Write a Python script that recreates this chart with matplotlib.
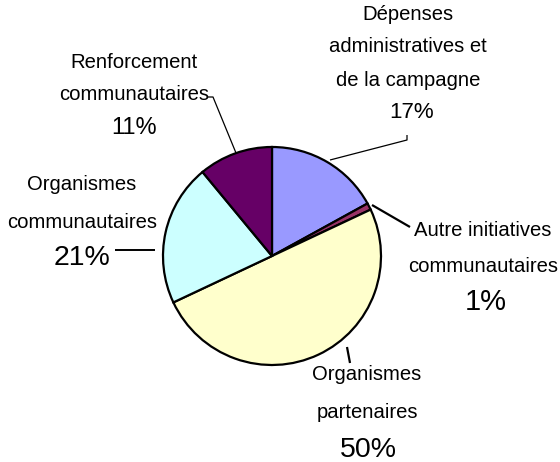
import matplotlib
matplotlib.use("Agg")
import matplotlib.pyplot as plt

# Data
categories = ["Dépenses administratives et de la campagne",
              "Autre initiatives communautaires",
              "Organismes partenaires",
              "Organismes communautaires",
              "Renforcement communautaires"]
values = [17, 1, 50, 21, 11]
colors = ["#9999FF", "#993366", "#FFFFCC", "#CCFFFF", "#660066"]

W, H = 560, 462
fig = plt.figure(figsize=(W / 100, H / 100), dpi=100)
ax = fig.add_axes([0, 0, 1, 1])
ax.set_xlim(0, W)
ax.set_ylim(0, H)
ax.set_aspect("equal")
ax.axis("off")

plt.rcParams["font.family"] = ["Liberation Sans", "DejaVu Sans"]

cx, cy, r = 272, H - 256, 109
ax.pie(values, colors=colors, startangle=90, counterclock=False,
       center=(cx, cy), radius=r,
       wedgeprops=dict(edgecolor="black", linewidth=1.6))
ax.set_xlim(0, W)
ax.set_ylim(0, H)

def Y(y):
    return H - y

pcts = [f"{v}%" for v in values]

# label layouts: (lines, x, ys, pct x, pct y, pct size)
layouts = [
    (["Dépenses", "administratives et", "de la campagne"], 408, [15, 47, 80], 412, 112, 16),
    (["Autre initiatives", "communautaires"], 483, [230, 267], 486, 302, 21),
    (["Organismes", "partenaires"], 367, [375, 413], 368, 450, 20.5),
    (["Organismes", "communautaires"], 82, [185, 222], 82, 258, 20.5),
    (["Renforcement", "communautaires"], 134, [62, 95], 134, 128, 17),
]
for (lines, x, ys, px, py, psize), pct in zip(layouts, pcts):
    for t, y in zip(lines, ys):
        ax.text(x, Y(y), t, ha="center", va="center", fontsize=14.6, color="black")
    ax.text(px, Y(py), pct, ha="center", va="center", fontsize=psize, color="black")

# leader lines
leaders = [
    ([407, 407, 330], [135, 140, 160], 0.9),
    ([372, 410], [205, 227], 1.6),
    ([347, 350], [347, 363], 1.6),
    ([115, 155], [250, 250], 1.4),
    ([208, 213, 236], [97, 97, 153], 0.9),
]
for xs, ys, lw in leaders:
    ax.plot(xs, [Y(v) for v in ys], color="black", linewidth=lw, solid_capstyle="butt")

fig.savefig("out.png", dpi=100, facecolor="white")
